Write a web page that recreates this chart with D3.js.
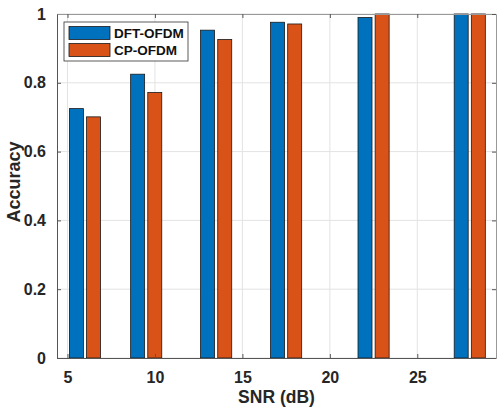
<!DOCTYPE html>
<html>
<head>
<meta charset="utf-8">
<script src="https://cdn.jsdelivr.net/npm/d3@7"></script>
<style>
  body { margin: 0; background: #fff; }
  svg { display: block; font-family: "Liberation Sans", Arial, sans-serif; }
  .tick text { font-weight: bold; fill: #262626; }
</style>
</head>
<body>
<div id="chart"></div>
<script>
// data
const snr = [6, 9.5, 13.5, 17.5, 22.5, 28];
const dftOfdm = [0.725, 0.825, 0.953, 0.976, 0.990, 1.0];
const cpOfdm = [0.701, 0.772, 0.926, 0.971, 1.0, 1.0];
const seriesNames = ["DFT-OFDM", "CP-OFDM"];
const seriesColors = ["#0072BD", "#D95319"];
const xTicks = [5, 10, 15, 20, 25];
const yTicks = [0, 0.2, 0.4, 0.6, 0.8, 1];

const W = 497, H = 412;
const margin = {top: 14, right: 1, bottom: 54, left: 57},
      width = W - margin.left - margin.right,
      height = H - margin.top - margin.bottom;

const svg = d3.select("#chart").append("svg")
  .attr("width", W)
  .attr("height", H);
const g = svg.append("g")
  .attr("transform", "translate(" + margin.left + "," + margin.top + ")");

const x = d3.scaleLinear().domain([4.4, 29.5]).range([0, width]);
const y = d3.scaleLinear().domain([0, 1]).range([height, 0]);

// grid
g.append("g").selectAll("line").data(xTicks)
  .enter().append("line")
  .attr("x1", d => x(d)).attr("x2", d => x(d))
  .attr("y1", 0).attr("y2", height)
  .attr("stroke", "#e3e3e3");
g.append("g").selectAll("line").data(yTicks)
  .enter().append("line")
  .attr("y1", d => y(d)).attr("y2", d => y(d))
  .attr("x1", 0).attr("x2", width)
  .attr("stroke", "#e3e3e3");

// bars
const offset = 0.49, barW = x(0.8) - x(0);
const series = [dftOfdm, cpOfdm];
series.forEach(function(vals, s) {
  g.append("g").selectAll("rect").data(snr)
    .enter().append("rect")
    .attr("x", (d, i) => x(d + (s === 0 ? -offset : offset)) - barW / 2)
    .attr("y", (d, i) => y(vals[i]))
    .attr("width", barW)
    .attr("height", (d, i) => height - y(vals[i]))
    .attr("fill", seriesColors[s])
    .attr("stroke", "#1a1a1a")
    .attr("stroke-width", 0.8);
});

// axes (inner ticks, mirrored on top/right)
const fmt = d => d === 0 ? "0" : (d === 1 ? "1" : d3.format(".1f")(d));
const axisColor = "#555";
const xAxis = g.append("g")
  .attr("transform", "translate(0," + height + ")")
  .call(d3.axisBottom(x).tickValues(xTicks).tickSizeInner(-4).tickSizeOuter(0).tickPadding(14));
const yAxis = g.append("g")
  .call(d3.axisLeft(y).tickValues(yTicks).tickFormat(fmt).tickSizeInner(-4).tickSizeOuter(0).tickPadding(11));
const xTop = g.append("g")
  .call(d3.axisTop(x).tickValues(xTicks).tickSizeInner(-4).tickSizeOuter(0).tickFormat(""));
const yRight = g.append("g")
  .attr("transform", "translate(" + width + ",0)")
  .call(d3.axisRight(y).tickValues(yTicks).tickSizeInner(-4).tickSizeOuter(0).tickFormat(""));
[xAxis, yAxis, xTop, yRight].forEach(function(a) {
  a.select(".domain").attr("stroke", axisColor);
  a.selectAll(".tick line").attr("stroke", axisColor);
  a.selectAll(".tick text").style("font-size", "16px");
});
xTop.select(".domain").attr("stroke", "#999");
yRight.select(".domain").attr("stroke", "#999");

// axis labels
svg.append("text")
  .attr("x", margin.left + width / 2)
  .attr("y", 403)
  .attr("text-anchor", "middle")
  .style("font-size", "17.5px").style("font-weight", "bold").style("fill", "#262626")
  .text("SNR (dB)");
svg.append("text")
  .attr("transform", "translate(20," + (margin.top + height / 2 - 4) + ") rotate(-90)")
  .attr("text-anchor", "middle")
  .style("font-size", "18px").style("font-weight", "bold").style("fill", "#262626")
  .text("Accuracy");

// legend
const leg = svg.append("g").attr("transform", "translate(64,22)");
leg.append("rect")
  .attr("width", 124).attr("height", 39)
  .attr("fill", "#fff").attr("stroke", "#333").attr("stroke-width", 0.8);
seriesNames.forEach(function(name, i) {
  leg.append("rect")
    .attr("x", 5).attr("y", 4.5 + i * 17)
    .attr("width", 41).attr("height", 13)
    .attr("fill", seriesColors[i]).attr("stroke", "#1a1a1a").attr("stroke-width", 0.8);
  leg.append("text")
    .attr("x", 50).attr("y", 11 + i * 17).attr("dy", "0.35em")
    .style("font-size", "13.5px").style("font-weight", "bold").style("fill", "#111")
    .text(name);
});
</script>
</body>
</html>
